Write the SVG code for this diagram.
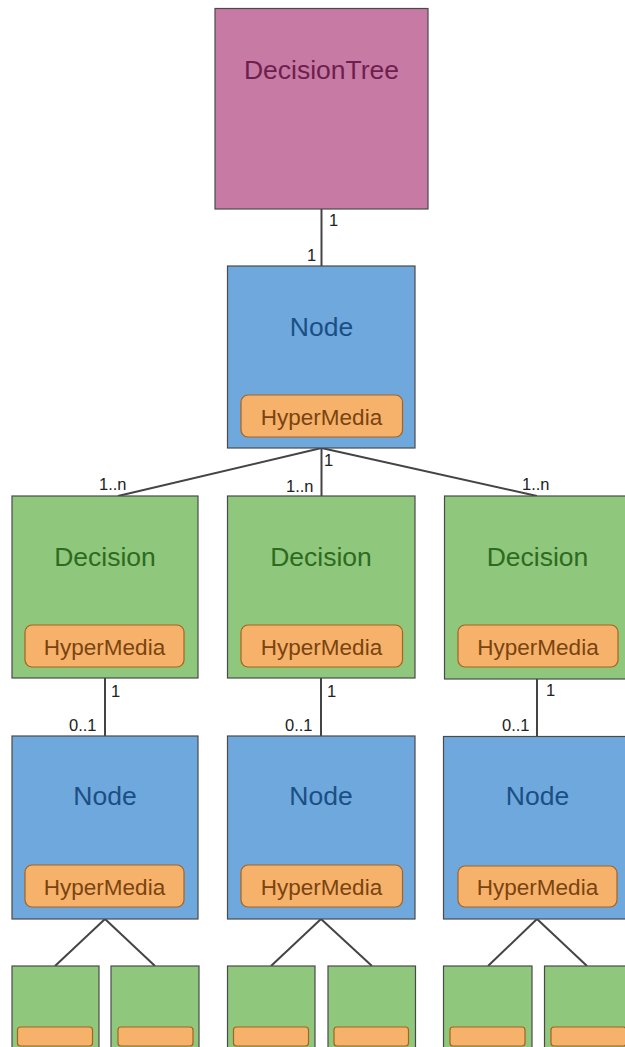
<svg xmlns="http://www.w3.org/2000/svg" width="625" height="1047" viewBox="0 0 625 1047">
  <style>
    .box { stroke: #4a4a4a; stroke-width: 1.2; }
    .tree { fill: #c77aa4; }
    .node { fill: #6fa8dc; }
    .dec { fill: #8fc77d; }
    .pill { fill: #f6b26b; stroke: #a8621c; stroke-width: 1.2; }
    .title { font-family: "Liberation Sans", Arial, sans-serif; font-size: 26.5px; text-anchor: middle; }
    .t-tree { fill: #6e1f4e; }
    .t-node { fill: #1a4f86; }
    .t-dec { fill: #2e6b1e; }
    .t-hm { font-family: "Liberation Sans", Arial, sans-serif; font-size: 22.5px; text-anchor: middle; fill: #7a4410; }
    .lbl { font-family: "Liberation Sans", Arial, sans-serif; font-size: 16.5px; fill: #222; }
    .conn line { stroke: #444; stroke-width: 2; }
  </style>

  <!-- connectors -->
  <g id="connectors" class="conn">
    <line x1="321.5" y1="209" x2="321.5" y2="266"/>
    <line x1="321.5" y1="448" x2="118" y2="496"/>
    <line x1="321.5" y1="448" x2="321.5" y2="496"/>
    <line x1="321.5" y1="448" x2="537" y2="496"/>
    <line x1="105" y1="678" x2="105" y2="736"/>
    <line x1="321" y1="678" x2="321" y2="736"/>
    <line x1="537" y1="679" x2="537" y2="736"/>
    <line x1="105" y1="919" x2="55" y2="966"/>
    <line x1="105" y1="919" x2="155" y2="966"/>
    <line x1="321" y1="919" x2="271" y2="966"/>
    <line x1="321" y1="919" x2="372" y2="966"/>
    <line x1="537" y1="919" x2="488" y2="966"/>
    <line x1="537" y1="919" x2="587" y2="966"/>
  </g>

  <!-- multiplicity labels -->
  <g id="labels" class="lbl">
    <text x="329" y="226">1</text>
    <text x="307" y="261">1</text>
    <text x="324" y="466">1</text>
    <text x="99" y="490">1..n</text>
    <text x="286" y="492">1..n</text>
    <text x="522" y="490">1..n</text>
    <text x="111" y="697">1</text>
    <text x="69" y="731">0..1</text>
    <text x="327" y="697">1</text>
    <text x="285" y="731">0..1</text>
    <text x="546" y="696">1</text>
    <text x="502" y="731">0..1</text>
  </g>

  <g id="decision-tree">
    <rect class="box tree" x="215" y="8.5" width="213" height="200.5"/>
    <text class="title t-tree" x="321.5" y="79">DecisionTree</text>
  </g>

  <g id="node-root">
    <rect class="box node" x="227.5" y="266" width="187.5" height="182"/>
    <text class="title t-node" x="321.5" y="336">Node</text>
    <rect class="pill" x="241" y="395" width="161.5" height="42" rx="7"/>
    <text class="t-hm" x="321.5" y="425">HyperMedia</text>
  </g>

  <g id="decision-1">
    <rect class="box dec" x="12" y="496" width="186" height="182"/>
    <text class="title t-dec" x="105" y="566">Decision</text>
    <rect class="pill" x="25" y="625" width="159" height="42" rx="7"/>
    <text class="t-hm" x="104.5" y="655">HyperMedia</text>
  </g>
  <g id="decision-2">
    <rect class="box dec" x="227.5" y="496" width="187.5" height="182"/>
    <text class="title t-dec" x="321" y="566">Decision</text>
    <rect class="pill" x="241" y="625" width="161.5" height="42" rx="7"/>
    <text class="t-hm" x="321.5" y="655">HyperMedia</text>
  </g>
  <g id="decision-3">
    <rect class="box dec" x="444.5" y="496" width="188" height="183"/>
    <text class="title t-dec" x="537.5" y="566">Decision</text>
    <rect class="pill" x="458" y="625" width="160" height="42" rx="7"/>
    <text class="t-hm" x="538" y="655">HyperMedia</text>
  </g>

  <g id="node-1">
    <rect class="box node" x="12" y="736" width="186" height="183"/>
    <text class="title t-node" x="105" y="805">Node</text>
    <rect class="pill" x="25" y="865" width="159" height="42" rx="7"/>
    <text class="t-hm" x="104.5" y="895">HyperMedia</text>
  </g>
  <g id="node-2">
    <rect class="box node" x="227.5" y="736" width="187.5" height="183"/>
    <text class="title t-node" x="321" y="805">Node</text>
    <rect class="pill" x="241" y="865" width="161.5" height="42" rx="7"/>
    <text class="t-hm" x="321.5" y="895">HyperMedia</text>
  </g>
  <g id="node-3">
    <rect class="box node" x="443.5" y="736.5" width="188" height="182.5"/>
    <text class="title t-node" x="537.5" y="805">Node</text>
    <rect class="pill" x="458" y="866" width="159" height="41" rx="7"/>
    <text class="t-hm" x="537.5" y="895">HyperMedia</text>
  </g>

  <!-- leaf decisions (cut off at the bottom edge) -->
  <g id="leaf-1a">
    <rect class="box dec" x="12" y="966" width="87" height="95"/>
    <rect class="pill" x="17.5" y="1027" width="75" height="19" rx="3"/>
  </g>
  <g id="leaf-1b">
    <rect class="box dec" x="111" y="966" width="88" height="95"/>
    <rect class="pill" x="118" y="1027" width="75" height="19" rx="3"/>
  </g>
  <g id="leaf-2a">
    <rect class="box dec" x="227.5" y="966" width="87.5" height="95"/>
    <rect class="pill" x="233.5" y="1027" width="75" height="19" rx="3"/>
  </g>
  <g id="leaf-2b">
    <rect class="box dec" x="328" y="966" width="87.5" height="95"/>
    <rect class="pill" x="334" y="1027" width="74.5" height="19" rx="3"/>
  </g>
  <g id="leaf-3a">
    <rect class="box dec" x="443.5" y="966" width="88.5" height="95"/>
    <rect class="pill" x="450" y="1027" width="75" height="19" rx="3"/>
  </g>
  <g id="leaf-3b">
    <rect class="box dec" x="544.5" y="966" width="88" height="95"/>
    <rect class="pill" x="551" y="1027" width="75" height="19" rx="3"/>
  </g>
</svg>
